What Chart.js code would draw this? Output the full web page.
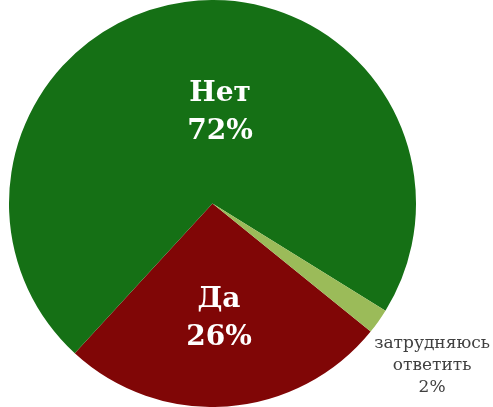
<!DOCTYPE html>
<html>
<head>
<meta charset="utf-8">
<script src="https://cdn.jsdelivr.net/npm/chart.js@4/dist/chart.umd.min.js"></script>
<style>
  html, body { margin: 0; padding: 0; background: #fff; }
  #wrap { width: 493px; height: 407px; }
</style>
</head>
<body>
<div id="wrap"><canvas id="pie"></canvas></div>
<script>
// answers and their shares, %
var answers = ['Да', 'Нет', 'затрудняюсь ответить'];
var shares = [26, 72, 2];
var sliceColors = ['#800606', '#157015', '#9bbb59'];

// where each label sits: fraction of radius along the slice middle, plus a nudge
var labelPlace = [
  { r: 0.57, dx: -2, dy: 0, inside: true },
  { r: 0.45, dx: 20, dy: 0, inside: true },
  { r: 1.36, dx: -6, dy: 2, inside: false }
];

var sliceLabels = {
  id: 'sliceLabels',
  afterDatasetsDraw: function(chart) {
    var ctx = chart.ctx;
    var meta = chart.getDatasetMeta(0);
    meta.data.forEach(function(arc, i) {
      var p = arc.getProps(['x', 'y', 'startAngle', 'endAngle', 'outerRadius'], true);
      var mid = (p.startAngle + p.endAngle) / 2;
      var pl = labelPlace[i];
      var cx = p.x + Math.cos(mid) * p.outerRadius * pl.r + pl.dx;
      var cy = p.y + Math.sin(mid) * p.outerRadius * pl.r + pl.dy;
      var lines;
      ctx.save();
      ctx.textAlign = 'center';
      ctx.textBaseline = 'middle';
      if (pl.inside) {
        lines = [answers[i], shares[i] + '%'];
        ctx.font = 'bold 28px "DejaVu Serif"';
        ctx.fillStyle = '#ffffff';
        ctx.fillText(lines[0], cx, cy - 19);
        ctx.fillText(lines[1], cx, cy + 19);
      } else {
        lines = answers[i].split(' ').concat([shares[i] + '%']);
        ctx.font = '17px "DejaVu Serif"';
        ctx.fillStyle = '#404040';
        lines.forEach(function(t, k) {
          ctx.fillText(t, cx, cy + (k - 1) * 22);
        });
      }
      ctx.restore();
    });
  }
};

new Chart(document.getElementById('pie'), {
  type: 'pie',
  data: {
    labels: answers,
    datasets: [{
      data: shares,
      backgroundColor: sliceColors,
      borderWidth: 0
    }]
  },
  options: {
    responsive: true,
    maintainAspectRatio: false,
    animation: false,
    rotation: 129,
    layout: { padding: { left: 5, right: 73, top: 0, bottom: 0 } },
    plugins: {
      legend: { display: false },
      tooltip: { enabled: false }
    }
  },
  plugins: [sliceLabels]
});
</script>
</body>
</html>
